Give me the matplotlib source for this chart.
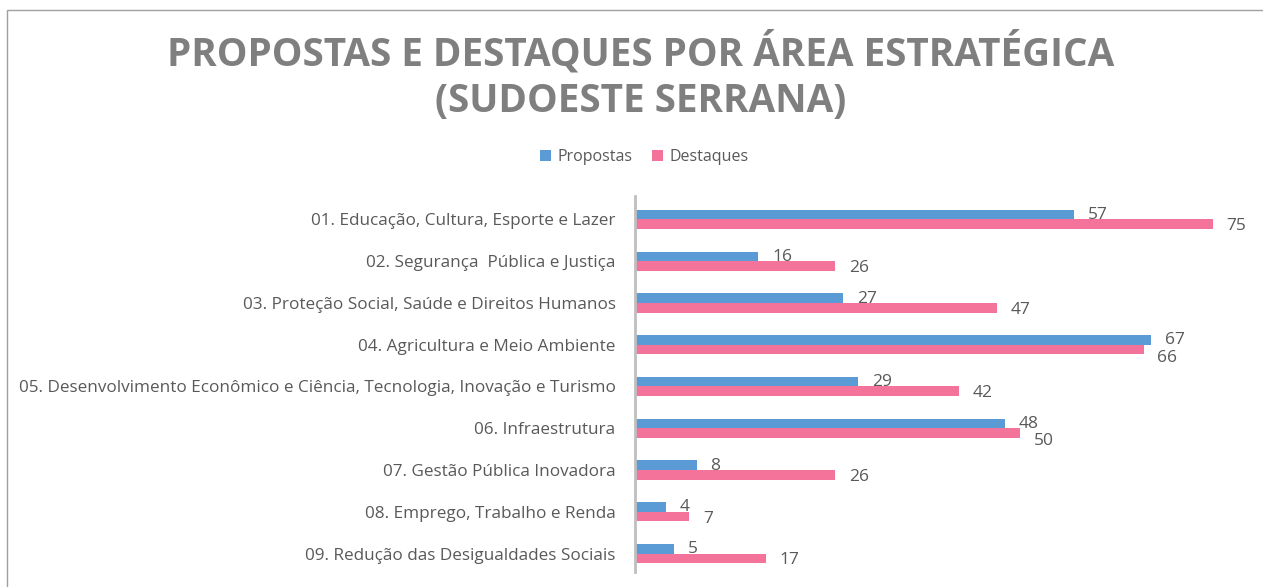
import numpy as np
import matplotlib
matplotlib.use("Agg")
import matplotlib.pyplot as plt
from matplotlib.patches import Rectangle

categorias = [
    "01. Educação, Cultura, Esporte e Lazer",
    "02. Segurança  Pública e Justiça",
    "03. Proteção Social, Saúde e Direitos Humanos",
    "04. Agricultura e Meio Ambiente",
    "05. Desenvolvimento Econômico e Ciência, Tecnologia, Inovação e Turismo",
    "06. Infraestrutura",
    "07. Gestão Pública Inovadora",
    "08. Emprego, Trabalho e Renda",
    "09. Redução das Desigualdades Sociais",
]
propostas = [57, 16, 27, 67, 29, 48, 8, 4, 5]
destaques = [75, 26, 47, 66, 42, 50, 26, 7, 17]

azul = "#5B9BD5"
rosa = "#F4739A"
cinza = "#595959"

plt.rcParams["font.family"] = ["Open Sans", "DejaVu Sans"]

fig = plt.figure(figsize=(12.63, 5.87), dpi=100)
ax = fig.add_axes([0.5028, 0.0256, 0.488, 0.6405])

y = np.arange(len(categorias))
h = 0.23
b1 = ax.barh(y - h / 2 + 0.06, propostas, height=h, color=azul, label="Propostas")
b2 = ax.barh(y + h / 2 + 0.06, destaques, height=h, color=rosa, label="Destaques")

for bar, v in zip(b1, propostas):
    ax.annotate(str(v), (v, bar.get_y() + bar.get_height() / 2 + 0.01),
                xytext=(10, 0), textcoords="offset points",
                va="center", ha="left", fontsize=12.5, color=cinza)
for bar, v, p in zip(b2, destaques, propostas):
    # rótulos próximos: empurra o de baixo para não sobrepor
    dy = 0.2 if abs(v - p) <= 2 else 0.05
    ax.annotate(str(v), (v, bar.get_y() + bar.get_height() / 2 + dy),
                xytext=(10, 0), textcoords="offset points",
                va="center", ha="left", fontsize=12.5, color=cinza)

ax.set_ylim(len(categorias) - 0.5, -0.5)
ax.set_xlim(0, 80)
ax.set_yticks(y + 0.06)
ax.set_yticklabels(categorias, fontsize=12.3, color=cinza)
ax.tick_params(axis="y", length=0, pad=14)
ax.set_xticks([])
for s in ["top", "right", "bottom"]:
    ax.spines[s].set_visible(False)
ax.spines["left"].set_color("#BFBFBF")
ax.spines["left"].set_linewidth(2)

fig.text(0.507, 0.870, "PROPOSTAS E DESTAQUES POR ÁREA ESTRATÉGICA\n(SUDOESTE SERRANA)",
         ha="center", va="center", fontsize=27.8, fontweight="bold",
         color="#7F7F7F", linespacing=1.25)

fig.legend(handles=[b1, b2], loc="center", bbox_to_anchor=(0.51, 0.733),
           ncol=2, frameon=False, fontsize=11.5, handlelength=0.7,
           handleheight=0.7, columnspacing=1.2, handletextpad=0.4,
           labelcolor=cinza)

fig.patches.append(Rectangle((7 / 1263, -0.1), 1.2, 1 - 10 / 587 + 0.1,
                             transform=fig.transFigure, fill=False,
                             edgecolor="#A0A0A0", linewidth=1))

fig.savefig("out.png", dpi=100)
